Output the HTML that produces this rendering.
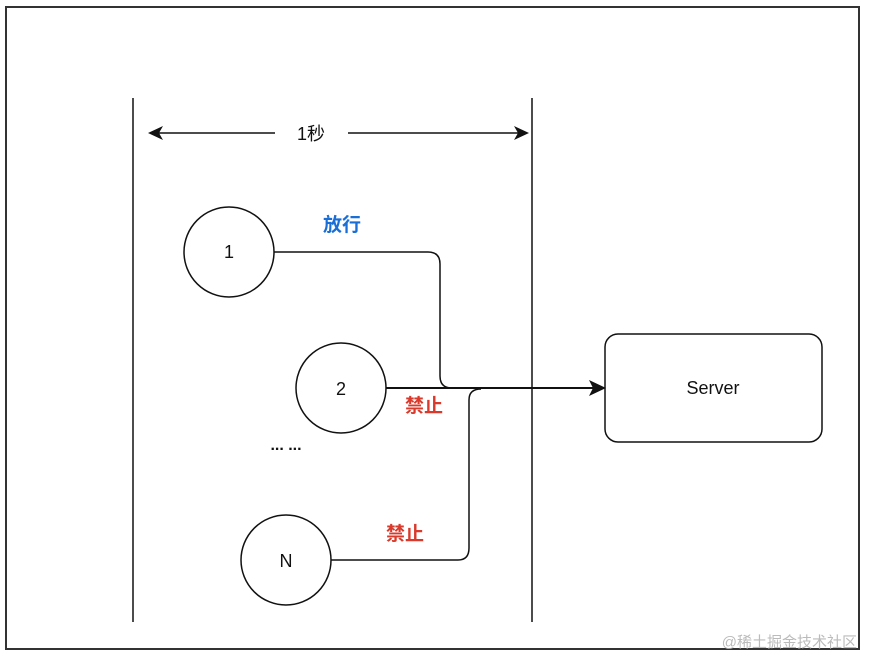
<!DOCTYPE html>
<html><head><meta charset="utf-8"><style>
body{margin:0;background:#fff;}
svg{display:block;}
text{font-family:"Liberation Sans","Noto Sans CJK SC",sans-serif;}
</style></head><body>
<svg width="873" height="659" viewBox="0 0 873 659">
<rect x="6" y="7" width="853" height="642" fill="#fff" stroke="#333" stroke-width="2"/>
<g stroke="#111" stroke-width="1.5" fill="none">
<line x1="133" y1="98" x2="133" y2="622"/>
<line x1="532" y1="98" x2="532" y2="622"/>
<line x1="150" y1="133" x2="275" y2="133"/>
<line x1="348" y1="133" x2="525" y2="133"/>
<circle cx="229" cy="252" r="45"/>
<circle cx="341" cy="388" r="45"/>
<circle cx="286" cy="560" r="45"/>
<rect x="605" y="334" width="217" height="108" rx="13"/>
<path d="M274 252 H428 Q440 252 440 264 V376 Q440 388 452 388"/>
<path d="M386 388 H598" stroke-width="2"/>
<path d="M331 560 H458 Q469 560 469 548 V400 Q469 389 481 389"/>
</g>
<polygon points="148,133 163,126 159,133 163,140" fill="#111"/>
<polygon points="529,133 514,126 518,133 514,140" fill="#111"/>
<polygon points="606,388 589,380 593,388 589,396" fill="#111"/>
<text x="311" y="140" font-size="18" text-anchor="middle" fill="#111">1秒</text>
<text x="229" y="258" font-size="18" text-anchor="middle" fill="#111">1</text>
<text x="341" y="395" font-size="18" text-anchor="middle" fill="#111">2</text>
<text x="286" y="567" font-size="18" text-anchor="middle" fill="#111">N</text>
<text x="713" y="394" font-size="18" text-anchor="middle" fill="#111">Server</text>
<text x="286" y="450" font-size="16" font-weight="bold" text-anchor="middle" fill="#111">... ...</text>
<text x="342" y="231" font-size="19" font-weight="bold" text-anchor="middle" fill="#1a6fd6">放行</text>
<text x="424" y="412" font-size="19" font-weight="bold" text-anchor="middle" fill="#d93a2b">禁止</text>
<text x="405" y="540" font-size="19" font-weight="bold" text-anchor="middle" fill="#d93a2b">禁止</text>
<text x="857" y="647" font-size="15" text-anchor="end" fill="#bbb">@稀土掘金技术社区</text>
</svg>
</body></html>
